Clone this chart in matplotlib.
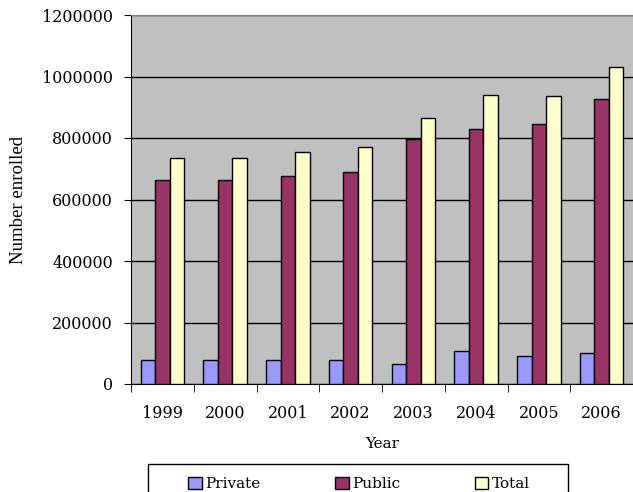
import matplotlib.pyplot as plt
from matplotlib.patches import Rectangle
import numpy as np

# inscripciones por año
years = ['1999', '2000', '2001', '2002', '2003', '2004', '2005', '2006']
private = [79000, 79000, 79000, 78000, 66000, 108000, 92000, 101000]
public = [663000, 663000, 677000, 690000, 797000, 830000, 844000, 928000]
total = [736000, 736000, 754000, 770000, 864000, 941000, 937000, 1030000]

series = [('Private', private, '#9999FF'),
          ('Public', public, '#993366'),
          ('Total', total, '#FFFFCC')]

fig = plt.figure(figsize=(6.33, 4.92), dpi=100)
ax = fig.add_axes([131/633, 1 - 384/492, 502/633, 369/492])
ax.set_facecolor('#C0C0C0')

x = np.arange(len(years))
w = 0.23
for i, (name, vals, col) in enumerate(series):
    ax.bar(x + (i - 1)*w, vals, width=w, color=col, edgecolor='black',
           linewidth=1, label=name, zorder=3)

# rejilla horizontal
ax.set_ylim(0, 1200000)
ax.set_yticks(np.arange(0, 1200001, 200000))
ax.yaxis.set_major_formatter(plt.FuncFormatter(lambda v, p: f'{v:.0f}'))
ax.yaxis.grid(True, color='black', linewidth=1, zorder=1)
ax.set_axisbelow(True)

# etiquetas en el centro, marcas entre grupos
ax.set_xlim(-0.5, len(years) - 0.5)
ax.set_xticks(x)
ax.set_xticklabels(years)
ax.set_xticks(np.arange(-0.5, len(years)), minor=True)
ax.tick_params(axis='x', which='major', length=0, pad=15)
ax.tick_params(axis='x', which='minor', length=6, direction='out', color='black')
ax.tick_params(axis='y', length=5, direction='out', pad=8)

for lab in ax.get_xticklabels() + ax.get_yticklabels():
    lab.set_fontfamily('DejaVu Serif')
    lab.set_fontsize(11.5)

ax.spines['top'].set_color('#808080')
ax.spines['right'].set_visible(False)
ax.spines['left'].set_color('black')
ax.spines['bottom'].set_color('black')

ax.set_xlabel('Year', family='DejaVu Serif', fontsize=11, labelpad=11)
ax.set_ylabel('Number enrolled', family='Liberation Serif', fontsize=13.5)
ax.yaxis.set_label_coords(-0.207, 0.5)

# leyenda (el marco queda cortado por el borde inferior)
fig.patches.append(Rectangle((148/633, -0.05), 420/633, 1 - 464/492 + 0.05,
                             transform=fig.transFigure, fill=False,
                             edgecolor='black', linewidth=1))
leg = fig.legend(loc='center left', bbox_to_anchor=(188/633, 1 - 484/492),
                 ncol=3, frameon=False, borderaxespad=0, borderpad=0,
                 handlelength=0.9, handleheight=0.9, handletextpad=0.2,
                 columnspacing=4.9, prop={'family': 'DejaVu Serif', 'size': 11})

fig.savefig('out.png', dpi=100)
